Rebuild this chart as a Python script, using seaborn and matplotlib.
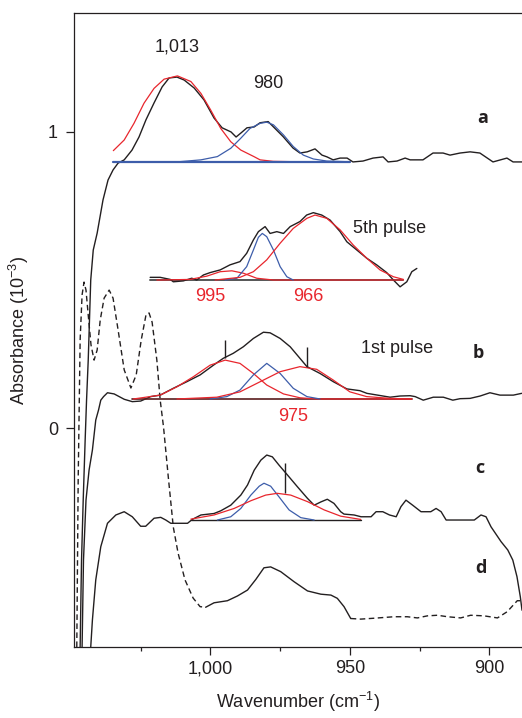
import matplotlib
matplotlib.use('Agg')
import matplotlib.pyplot as plt
import seaborn as sns
import pandas as pd
from matplotlib.ticker import FixedLocator, MultipleLocator, FuncFormatter

# spectrum a (top)
A_WN = [1046.7, 1046.2, 1045.6, 1044.9, 1044.4, 1043.8, 1042.9, 1042.0, 1040.6, 1038.5, 1036.7,
        1034.9, 1033.1, 1030.9, 1028.1, 1025.6, 1023.1, 1020.2, 1017.3, 1014.8, 1012.0, 1009.4,
        1005.8, 1002.3, 998.7, 995.8, 992.6, 990.8, 989.0, 986.9, 984.3, 982.2, 979.3, 977.5,
        973.9, 970.4, 967.9, 965.3, 962.5, 960.0, 958.2, 956.0, 953.5, 951.0, 948.9, 945.3,
        941.7, 938.1, 936.3, 933.1, 930.2, 928.4, 923.8, 920.2, 916.6, 914.1, 910.5, 906.9,
        903.4, 898.7, 893.7, 891.5, 888.3]
A_ABS = [-0.737, -0.444, -0.242, -0.039, 0.095, 0.230, 0.500, 0.601, 0.658, 0.770, 0.837,
         0.871, 0.894, 0.905, 0.938, 0.982, 1.040, 1.097, 1.151, 1.181, 1.184, 1.174,
         1.147, 1.107, 1.046, 1.013, 0.999, 0.982, 0.996, 1.013, 1.016, 1.030, 1.034, 1.017,
         0.983, 0.945, 0.928, 0.932, 0.942, 0.921, 0.915, 0.905, 0.911, 0.911, 0.898, 0.901,
         0.911, 0.915, 0.898, 0.901, 0.911, 0.905, 0.905, 0.928, 0.928, 0.921, 0.928, 0.932,
         0.928, 0.898, 0.911, 0.898, 0.898]
A_BASE_WN = [1034.9, 949.9]
A_BASE_ABS = [0.899, 0.899]
A_RED_WN = [1034.8, 1030.9, 1027.4, 1023.8, 1020.2, 1016.6, 1011.8, 1007.0, 1003.4, 999.9,
            996.3, 992.7, 989.1, 984.4, 982.2, 977.5, 971.4, 950.0]
A_RED_ABS = [0.936, 0.972, 1.028, 1.096, 1.146, 1.177, 1.188, 1.169, 1.129, 1.073,
             1.011, 0.966, 0.938, 0.916, 0.905, 0.900, 0.899, 0.899]
A_BLUE_WN = [1010.9, 1003.4, 997.5, 992.7, 989.1, 985.8, 982.2, 979.8, 977.4, 973.8,
             970.3, 966.7, 963.1, 958.3, 951.7]
A_BLUE_ABS = [0.899, 0.905, 0.916, 0.944, 0.978, 1.011, 1.028, 1.032, 1.023, 0.989,
              0.950, 0.921, 0.908, 0.901, 0.899]

# 5th pulse inset
P5_WN = [1021.6, 1018.0, 1014.4, 1013.3, 1009.7, 1006.7, 1004.9, 1002.5, 1000.1, 996.5, 993.0,
         989.4, 987.0, 984.6, 982.8, 980.4, 978.6, 976.2, 973.8, 971.4, 967.9, 965.5, 963.1,
         960.1, 957.1, 953.5, 951.1, 947.5, 943.9, 940.4, 936.8, 934.4, 932.0, 929.6, 927.8, 926.0]
P5_ABS = [0.509, 0.509, 0.502, 0.494, 0.497, 0.506, 0.500, 0.517, 0.525, 0.534, 0.551,
          0.562, 0.590, 0.635, 0.663, 0.680, 0.657, 0.663, 0.657, 0.680, 0.697, 0.719, 0.727,
          0.719, 0.702, 0.663, 0.629, 0.601, 0.573, 0.551, 0.525, 0.500, 0.477, 0.494, 0.528, 0.539]
P5_BASE_WN = [1021.6, 930.8]
P5_BASE_ABS = [0.500, 0.500]
P5_R1_WN = [1019.2, 1018.0, 1007.3, 1001.3, 996.5, 992.3, 988.2, 983.4, 977.4, 930.8]
P5_R1_ABS = [0.500, 0.500, 0.502, 0.513, 0.528, 0.531, 0.523, 0.506, 0.500, 0.500]
P5_BLUE_WN = [994.7, 990.5, 987.0, 984.6, 982.8, 981.4, 979.8, 977.4, 975.0, 972.6, 970.3]
P5_BLUE_ABS = [0.500, 0.506, 0.545, 0.601, 0.644, 0.657, 0.646, 0.601, 0.545, 0.511, 0.500]
P5_R2_WN = [998.3, 989.4, 984.6, 979.8, 975.0, 970.3, 965.4, 962.5, 958.3, 953.5, 948.8,
            943.9, 939.2, 934.4, 930.8]
P5_R2_ABS = [0.500, 0.509, 0.528, 0.568, 0.624, 0.674, 0.708, 0.719, 0.708, 0.669, 0.618,
             0.573, 0.534, 0.511, 0.502]

# spectrum b (1st pulse)
B_WN = [1046.0, 1045.5, 1044.6, 1043.5, 1042.3, 1041.1, 1040.1, 1039.3, 1038.3, 1036.9, 1034.5,
        1030.9, 1028.0, 1025.0, 1021.4, 1018.0, 1013.3, 1008.5, 1003.7, 998.9, 995.4, 991.8,
        988.2, 984.6, 981.0, 978.6, 975.0, 971.4, 967.9, 965.4, 960.7, 955.9, 951.1, 946.4,
        943.9, 935.6, 932.0, 928.4, 926.6, 923.7, 920.1, 916.5, 913.1, 910.5, 906.9, 903.3,
        899.8, 896.2, 891.4, 888.4]
B_ABS = [-0.737, -0.444, -0.242, -0.141, -0.073, 0.028, 0.062, 0.095, 0.107, 0.120, 0.116,
         0.098, 0.090, 0.092, 0.107, 0.112, 0.135, 0.157, 0.180, 0.213, 0.236, 0.253,
         0.275, 0.303, 0.324, 0.322, 0.303, 0.275, 0.236, 0.208, 0.185, 0.157, 0.133, 0.127,
         0.118, 0.105, 0.109, 0.110, 0.107, 0.095, 0.105, 0.105, 0.095, 0.100, 0.101, 0.109,
         0.120, 0.112, 0.112, 0.118]
B_BASE_WN = [1028.2, 927.8]
B_BASE_ABS = [0.099, 0.099]
B_R1_WN = [1027.6, 1018.0, 1012.0, 1006.1, 1000.1, 994.7, 989.4, 984.6, 979.8, 973.8, 967.9,
           961.9, 927.8]
B_R1_ABS = [0.099, 0.112, 0.140, 0.174, 0.213, 0.230, 0.219, 0.185, 0.146, 0.116, 0.103,
            0.099, 0.099]
B_BLUE_WN = [1000.1, 994.1, 989.4, 984.6, 979.8, 975.0, 970.3, 965.4, 960.7]
B_BLUE_ABS = [0.099, 0.107, 0.129, 0.180, 0.219, 0.185, 0.135, 0.107, 0.099]
B_R2_WN = [1012.0, 997.7, 989.4, 982.2, 975.0, 967.9, 961.9, 956.0, 950.0, 944.0, 935.6, 927.8]
B_R2_ABS = [0.099, 0.105, 0.123, 0.157, 0.191, 0.208, 0.199, 0.163, 0.123, 0.107, 0.101, 0.099]

# spectrum c
C_WN = [1042.9, 1042.3, 1041.1, 1039.3, 1036.9, 1033.9, 1030.9, 1028.0, 1025.0, 1023.2, 1020.2,
        1017.8, 1016.0, 1014.2, 1008.2, 1006.5, 1003.4, 998.7, 996.3, 992.7, 989.1, 986.7,
        984.3, 981.9, 979.8, 977.8, 975.4, 972.4, 968.8, 965.2, 962.8, 960.4, 958.1, 955.7,
        953.3, 952.1, 948.5, 946.0, 942.4, 940.6, 938.2, 935.8, 933.4, 931.7, 929.9, 927.5,
        924.5, 921.0, 919.1, 917.3, 915.5, 910.1, 905.4, 903.0, 901.2, 899.4, 895.8, 893.4,
        891.6, 890.1, 888.9, 888.3]
C_ABS = [-0.737, -0.646, -0.511, -0.399, -0.320, -0.292, -0.281, -0.298, -0.330, -0.330, -0.303,
         -0.300, -0.309, -0.320, -0.320, -0.307, -0.292, -0.287, -0.278, -0.259, -0.225, -0.191,
         -0.141, -0.107, -0.090, -0.096, -0.124, -0.157, -0.197, -0.236, -0.259, -0.248, -0.239,
         -0.253, -0.281, -0.289, -0.292, -0.298, -0.298, -0.281, -0.281, -0.292, -0.298, -0.264,
         -0.242, -0.259, -0.281, -0.281, -0.270, -0.281, -0.309, -0.309, -0.309, -0.292, -0.298,
         -0.332, -0.382, -0.410, -0.444, -0.500, -0.568, -0.613]
C_BASE_WN = [1007.0, 946.1]
C_BASE_ABS = [-0.309, -0.309]
C_BLUE_WN = [997.5, 992.7, 989.1, 985.5, 982.5, 980.8, 978.4, 975.4, 971.8, 967.6, 962.8]
C_BLUE_ABS = [-0.309, -0.298, -0.270, -0.225, -0.195, -0.185, -0.195, -0.231, -0.275, -0.301, -0.309]
C_RED_WN = [1007.0, 998.7, 991.5, 985.5, 980.2, 976.0, 971.2, 965.2, 959.2, 953.3, 946.1]
C_RED_ABS = [-0.306, -0.292, -0.270, -0.244, -0.225, -0.219, -0.225, -0.247, -0.275, -0.296, -0.307]

# spectrum d (dashed reference + solid band)
D_DASH1_WN = [1047.9, 1047.4, 1046.7, 1046.0, 1045.3, 1044.6, 1043.8, 1042.8, 1041.7, 1040.6,
              1039.5, 1038.1, 1036.3, 1034.9, 1033.1, 1030.9, 1028.5, 1026.6, 1024.8, 1023.1,
              1022.0, 1020.9, 1019.2, 1018.0, 1016.8, 1015.1, 1013.3, 1011.6, 1009.1, 1006.2,
              1003.7, 1001.7]
D_DASH1_ABS = [-0.737, -0.174, 0.298, 0.450, 0.493, 0.466, 0.382, 0.281, 0.230, 0.264,
               0.365, 0.439, 0.466, 0.439, 0.332, 0.197, 0.136, 0.180, 0.298, 0.382,
               0.389, 0.358, 0.230, 0.095, 0.004, -0.164, -0.333, -0.420, -0.511, -0.572,
               -0.601, -0.603]
D_SOLID_WN = [1001.7, 998.7, 993.9, 990.3, 986.7, 983.7, 980.8, 978.4, 974.8, 970.0, 965.2,
              960.4, 956.8, 954.5, 952.1, 949.7]
D_SOLID_ABS = [-0.603, -0.588, -0.581, -0.565, -0.545, -0.509, -0.470, -0.467, -0.483, -0.517,
               -0.548, -0.559, -0.562, -0.573, -0.601, -0.641]
D_DASH2_WN = [949.7, 946.1, 941.3, 934.2, 929.4, 925.8, 922.2, 918.6, 915.0, 910.3, 906.7,
              901.9, 897.1, 893.6, 890.0, 888.3]
D_DASH2_ABS = [-0.641, -0.643, -0.640, -0.635, -0.635, -0.639, -0.632, -0.630, -0.635, -0.639,
               -0.630, -0.632, -0.639, -0.618, -0.581, -0.581]

# vertical marker lines
MARK_WN = [994.7, 965.4, 973.3]
MARK_LO = [0.236, 0.208, -0.219]
MARK_HI = [0.298, 0.275, -0.118]

BLACK = '#231f20'
RED = '#e8262d'
BLUE = '#3d5daa'


def line(ax, x, y, color, lw=1.0, ls='-'):
    df = pd.DataFrame({'wn': x, 'abs': y})
    sns.lineplot(data=df, x='wn', y='abs', ax=ax, sort=False, estimator=None,
                 color=color, linewidth=lw, linestyle=ls)


def main():
    sns.set_style('ticks')
    plt.rcParams['font.family'] = ['Liberation Sans', 'DejaVu Sans']
    plt.rcParams['mathtext.fontset'] = 'custom'
    plt.rcParams['mathtext.rm'] = 'Liberation Sans'

    fig = plt.figure(figsize=(5.22, 7.18), dpi=100)
    ax = fig.add_axes([74 / 522, 1 - 647 / 718, 1 - 74 / 522, (647 - 13) / 718])

    dash = (0, (4, 2.5))
    # dashed reference spectrum
    line(ax, D_DASH1_WN, D_DASH1_ABS, BLACK, 1.0, dash)
    line(ax, D_DASH2_WN, D_DASH2_ABS, BLACK, 1.0, dash)
    line(ax, D_SOLID_WN, D_SOLID_ABS, BLACK, 1.0)

    # spectrum a
    line(ax, A_WN, A_ABS, BLACK, 1.0)
    line(ax, A_RED_WN, A_RED_ABS, RED, 0.9)
    line(ax, A_BLUE_WN, A_BLUE_ABS, BLUE, 0.9)
    line(ax, A_BASE_WN, A_BASE_ABS, BLUE, 1.6)

    # 5th pulse
    line(ax, P5_BASE_WN, P5_BASE_ABS, '#555555', 1.4)
    line(ax, P5_WN, P5_ABS, BLACK, 1.0)
    line(ax, P5_R1_WN, P5_R1_ABS, RED, 0.9)
    line(ax, P5_BLUE_WN, P5_BLUE_ABS, BLUE, 0.9)
    line(ax, P5_R2_WN, P5_R2_ABS, RED, 0.9)

    # spectrum b
    line(ax, B_WN, B_ABS, BLACK, 1.0)
    line(ax, B_BASE_WN, B_BASE_ABS, '#5a1c1e', 1.2)
    line(ax, B_R1_WN, B_R1_ABS, RED, 0.9)
    line(ax, B_BLUE_WN, B_BLUE_ABS, BLUE, 0.9)
    line(ax, B_R2_WN, B_R2_ABS, RED, 0.9)

    # spectrum c
    line(ax, C_WN, C_ABS, BLACK, 1.0)
    line(ax, C_BASE_WN, C_BASE_ABS, BLACK, 1.0)
    line(ax, C_BLUE_WN, C_BLUE_ABS, BLUE, 0.9)
    line(ax, C_RED_WN, C_RED_ABS, RED, 0.9)

    ax.vlines(MARK_WN, MARK_LO, MARK_HI, color=BLACK, linewidth=1.0)

    # labels
    fs = 13
    ax.text(1012.0, 1.287, '1,013', ha='center', va='center', fontsize=fs, color=BLACK)
    ax.text(979.3, 1.161, '980', ha='center', va='center', fontsize=fs, color=BLACK)
    ax.text(935.6, 0.674, '5th pulse', ha='center', va='center', fontsize=fs, color=BLACK)
    ax.text(1000.1, 0.444, '995', ha='center', va='center', fontsize=fs, color=RED)
    ax.text(964.9, 0.444, '966', ha='center', va='center', fontsize=fs, color=RED)
    ax.text(933.2, 0.270, '1st pulse', ha='center', va='center', fontsize=fs, color=BLACK)
    ax.text(970.3, 0.039, '975', ha='center', va='center', fontsize=fs, color=RED)
    for lab, xx, yy in [('a', 902.4, 1.046), ('b', 904.0, 0.254),
                        ('c', 903.6, -0.135), ('d', 903.0, -0.472)]:
        ax.text(xx, yy, lab, ha='center', va='center', fontsize=fs, fontweight='bold',
                family='Open Sans', color=BLACK)

    ax.set_xlim(1048.9, 888.3)
    ax.set_ylim(-0.737, 1.40)
    ax.xaxis.set_major_locator(FixedLocator([1000, 950, 900]))
    ax.xaxis.set_minor_locator(MultipleLocator(25))
    ax.xaxis.set_major_formatter(FuncFormatter(lambda v, p: f'{v:,.0f}'))
    ax.yaxis.set_major_locator(FixedLocator([0, 1]))
    ax.yaxis.set_major_formatter(FuncFormatter(lambda v, p: f'{v:.0f}'))
    ax.tick_params(axis='both', which='major', length=5.5, width=0.9, color=BLACK,
                   labelsize=fs, labelcolor=BLACK, pad=4)
    ax.tick_params(axis='x', which='minor', length=3, width=0.9, color=BLACK)
    ax.tick_params(axis='y', pad=6)

    for side in ['left', 'top', 'bottom']:
        ax.spines[side].set_linewidth(0.9)
        ax.spines[side].set_color(BLACK)
    ax.spines['right'].set_visible(False)

    ax.set_xlabel('Wavenumber (cm$^{\\mathregular{-1}}$)', fontsize=fs, color=BLACK, labelpad=9)
    ax.set_ylabel('Absorbance (10$^{\\mathregular{-3}}$)', fontsize=fs, color=BLACK, labelpad=12)

    plt.savefig('out.png', dpi=100)


if __name__ == '__main__':
    main()
